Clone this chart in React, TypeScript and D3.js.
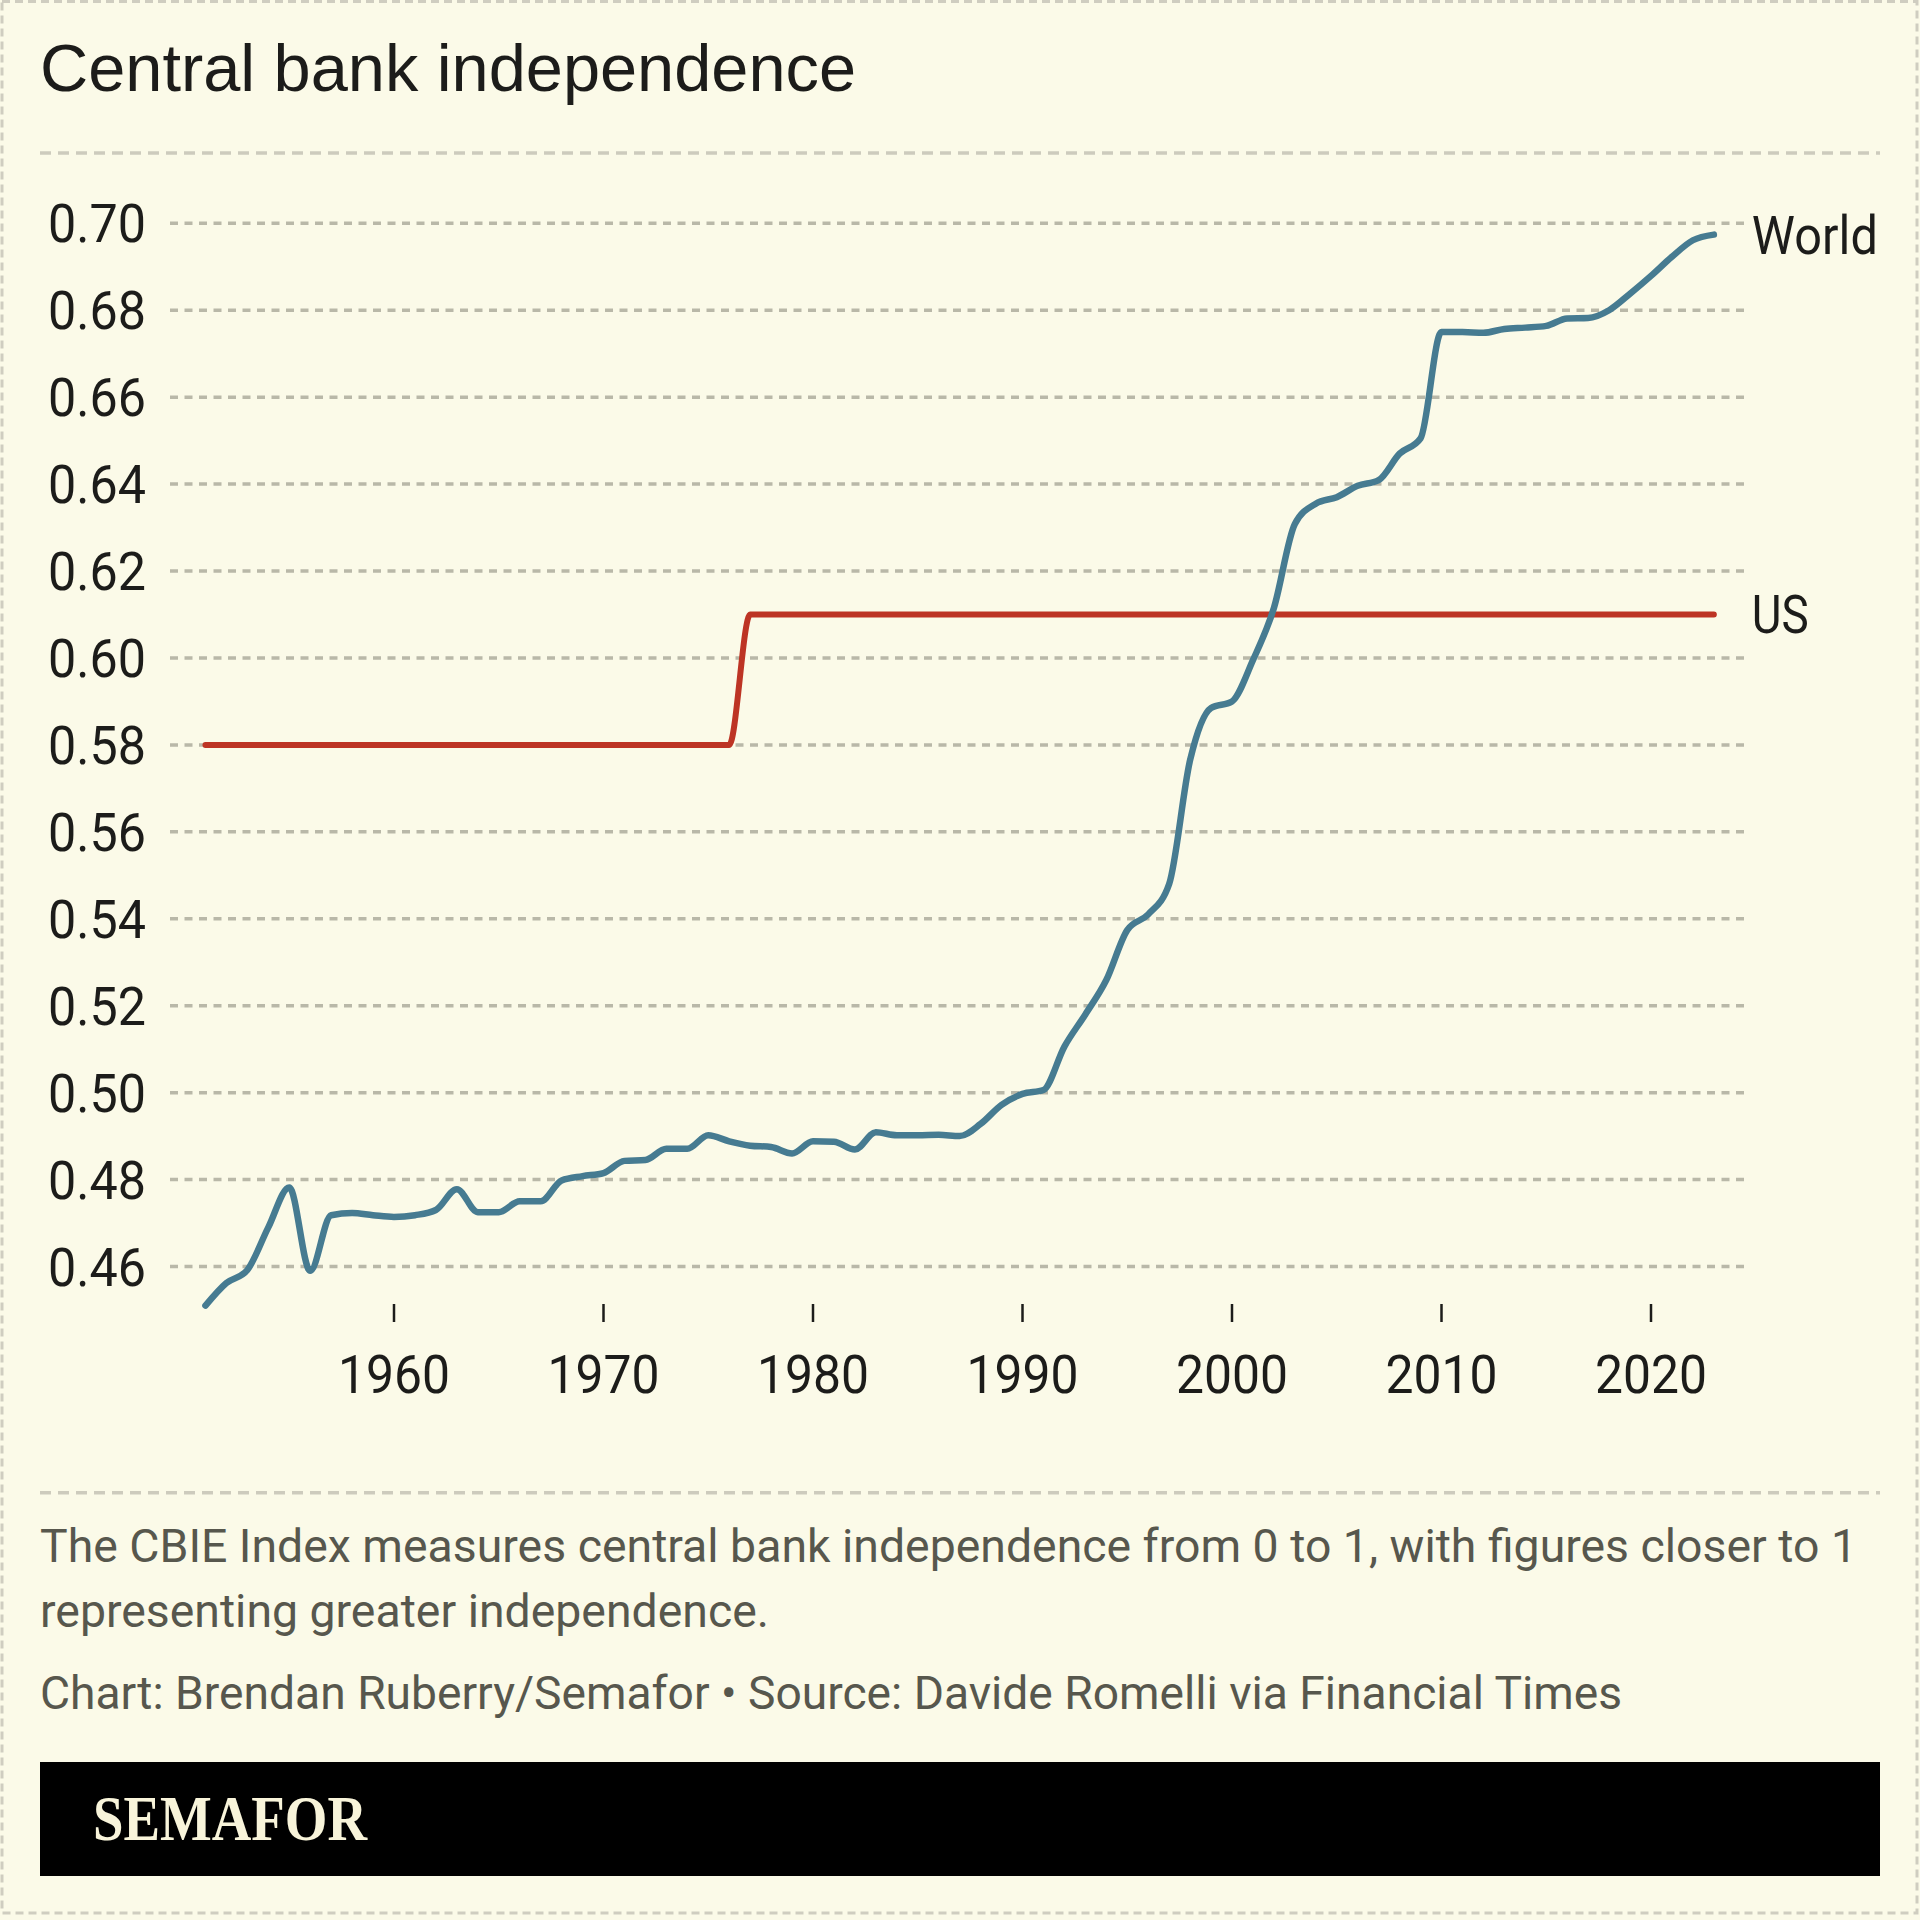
import React from 'react';
import * as d3 from 'd3';

const years: number[] = [
  1951, 1952, 1953, 1954, 1955, 1956, 1957, 1958, 1959, 1960,
  1961, 1962, 1963, 1964, 1965, 1966, 1967, 1968, 1969, 1970,
  1971, 1972, 1973, 1974, 1975, 1976, 1977, 1978, 1979, 1980,
  1981, 1982, 1983, 1984, 1985, 1986, 1987, 1988, 1989, 1990,
  1991, 1992, 1993, 1994, 1995, 1996, 1997, 1998, 1999, 2000,
  2001, 2002, 2003, 2004, 2005, 2006, 2007, 2008, 2009, 2010,
  2011, 2012, 2013, 2014, 2015, 2016, 2017, 2018, 2019, 2020,
  2021, 2022, 2023,
];

const worldValues: number[] = [
  0.4510, 0.4562, 0.4592, 0.4690, 0.4782, 0.4590, 0.4718, 0.4723, 0.4718, 0.4714,
  0.4718, 0.4730, 0.4778, 0.4725, 0.4725, 0.4750, 0.4750, 0.4798, 0.4808, 0.4815,
  0.4843, 0.4845, 0.4871, 0.4871, 0.4902, 0.4888, 0.4878, 0.4875, 0.4860, 0.4888,
  0.4887, 0.4869, 0.4909, 0.4902, 0.4902, 0.4903, 0.4900, 0.4928, 0.4972, 0.4997,
  0.5006, 0.5106, 0.5180, 0.5259, 0.5374, 0.5410, 0.5480, 0.5765, 0.5885, 0.5900,
  0.5995, 0.6115, 0.6308, 0.6355, 0.6370, 0.6396, 0.6409, 0.6470, 0.6505, 0.6750,
  0.6750, 0.6748, 0.6757, 0.6760, 0.6764, 0.6781, 0.6782, 0.6800, 0.6838, 0.6879,
  0.6923, 0.6961, 0.6974,
];

const usValues: number[] = [
  0.58, 0.58, 0.58, 0.58, 0.58, 0.58, 0.58, 0.58, 0.58, 0.58,
  0.58, 0.58, 0.58, 0.58, 0.58, 0.58, 0.58, 0.58, 0.58, 0.58,
  0.58, 0.58, 0.58, 0.58, 0.58, 0.58, 0.61, 0.61, 0.61, 0.61,
  0.61, 0.61, 0.61, 0.61, 0.61, 0.61, 0.61, 0.61, 0.61, 0.61,
  0.61, 0.61, 0.61, 0.61, 0.61, 0.61, 0.61, 0.61, 0.61, 0.61,
  0.61, 0.61, 0.61, 0.61, 0.61, 0.61, 0.61, 0.61, 0.61, 0.61,
  0.61, 0.61, 0.61, 0.61, 0.61, 0.61, 0.61, 0.61, 0.61, 0.61,
  0.61, 0.61, 0.61,
];

const yTicks: number[] = [0.46, 0.48, 0.5, 0.52, 0.54, 0.56, 0.58, 0.6, 0.62, 0.64, 0.66, 0.68, 0.7];
const xTicks: number[] = [1960, 1970, 1980, 1990, 2000, 2010, 2020];

const seriesNames = { world: 'World', us: 'US' };
const title = 'Central bank independence';
const noteLines = [
  'The CBIE Index measures central bank independence from 0 to 1, with figures closer to 1',
  'representing greater independence.',
];
const sourceLine = 'Chart: Brendan Ruberry/Semafor \u2022 Source: Davide Romelli via Financial Times';
const brand = 'SEMAFOR';

const BG = '#fbfae8';
const WORLD_COLOR = '#467b91';
const US_COLOR = '#bd3424';
const GRID_COLOR = '#b9b8a8';
const TEXT = '#1c1c1a';
const NOTE = '#57574d';
const SANS = 'Roboto, "Noto Sans", sans-serif';

export default function App() {
  const W = 1920;
  const H = 1920;

  const x = d3.scaleLinear().domain([1960, 2020]).range([394, 1651]);
  const y = d3.scaleLinear().domain([0.46, 0.7]).range([1266.5, 223.3]);

  const line = d3
    .line<number>()
    .x((_, i) => x(years[i]))
    .y((d) => y(d))
    .curve(d3.curveMonotoneX);

  const worldPath = line(worldValues) || '';
  const usPath = line(usValues) || '';

  const lastX = x(years[years.length - 1]);
  const worldLastY = y(worldValues[worldValues.length - 1]);
  const usLastY = y(usValues[usValues.length - 1]);

  const gridX0 = 170;
  const gridX1 = 1746;
  const tickTop = 1304;
  const tickBottom = 1322;

  return (
    <div style={{ position: 'absolute', left: 0, top: 0, width: W, height: H }}>
      <svg width={W} height={H} viewBox={`0 0 ${W} ${H}`} style={{ display: 'block' }}>
        <rect x={0} y={0} width={W} height={H} fill={BG} />
        <rect
          x={2}
          y={1.5}
          width={1915}
          height={1911.5}
          fill="none"
          stroke="#cfcdc0"
          strokeWidth={3}
          strokeDasharray="8 5"
        />

        {/* Title */}
        <text
          x={40}
          y={91}
          fontFamily='"Liberation Sans", Arial, Helvetica, sans-serif'
          fontSize={67}
          fill={TEXT}
          textLength={816}
          lengthAdjust="spacingAndGlyphs"
        >
          {title}
        </text>

        {/* Top separator */}
        <line
          x1={40}
          x2={1880}
          y1={153}
          y2={153}
          stroke="#cdcbbd"
          strokeWidth={3.5}
          strokeDasharray="11 7"
        />

        {/* Gridlines + y labels */}
        {yTicks.map((t) => (
          <g key={t}>
            <line
              x1={gridX0}
              x2={gridX1}
              y1={y(t)}
              y2={y(t)}
              stroke={GRID_COLOR}
              strokeWidth={3.5}
              strokeDasharray="8 6.5"
            />
            <text
              x={146}
              y={y(t) + 19}
              textAnchor="end"
              fontFamily={SANS}
              fontSize={53}
              fill={TEXT}
              textLength={98}
              lengthAdjust="spacingAndGlyphs"
            >
              {t.toFixed(2)}
            </text>
          </g>
        ))}

        {/* X ticks */}
        {xTicks.map((t) => (
          <g key={t}>
            <line x1={x(t)} x2={x(t)} y1={tickTop} y2={tickBottom} stroke={TEXT} strokeWidth={2.5} />
            <text
              x={x(t)}
              y={1393}
              textAnchor="middle"
              fontFamily={SANS}
              fontSize={53}
              fill={TEXT}
              textLength={112}
              lengthAdjust="spacingAndGlyphs"
            >
              {String(t)}
            </text>
          </g>
        ))}

        {/* Lines */}
        <path d={usPath} fill="none" stroke={US_COLOR} strokeWidth={6} strokeLinecap="round" strokeLinejoin="round" />
        <path d={worldPath} fill="none" stroke={WORLD_COLOR} strokeWidth={6.5} strokeLinecap="round" strokeLinejoin="round" />

        {/* Line labels */}
        <text
          x={lastX + 38}
          y={worldLastY + 19}
          fontFamily={SANS}
          fontSize={53}
          fill={TEXT}
          textLength={126}
          lengthAdjust="spacingAndGlyphs"
        >
          {seriesNames.world}
        </text>
        <text
          x={lastX + 38}
          y={usLastY + 18}
          fontFamily={SANS}
          fontSize={53}
          fill={TEXT}
          textLength={57}
          lengthAdjust="spacingAndGlyphs"
        >
          {seriesNames.us}
        </text>

        {/* Bottom separator */}
        <line
          x1={40}
          x2={1880}
          y1={1492.7}
          y2={1492.7}
          stroke="#cdcbbd"
          strokeWidth={3.5}
          strokeDasharray="11 7"
        />

        {/* Notes */}
        <text x={40} y={1562} fontFamily={SANS} fontSize={46} fill={NOTE} textLength={1817} lengthAdjust="spacingAndGlyphs">
          {noteLines[0]}
        </text>
        <text x={40} y={1627} fontFamily={SANS} fontSize={46} fill={NOTE} textLength={729} lengthAdjust="spacingAndGlyphs">
          {noteLines[1]}
        </text>
        <text x={40} y={1709} fontFamily={SANS} fontSize={46} fill={NOTE} textLength={1582} lengthAdjust="spacingAndGlyphs">
          {sourceLine}
        </text>

        {/* Brand band */}
        <rect x={40} y={1762} width={1840} height={114} fill="#000" />
        <text
          x={93}
          y={1840}
          fontFamily='"Liberation Serif", "DejaVu Serif", serif'
          fontWeight="bold"
          fontSize={64}
          fill="#f8f4da"
          textLength={274}
          lengthAdjust="spacingAndGlyphs"
        >
          {brand}
        </text>
      </svg>
    </div>
  );
}
